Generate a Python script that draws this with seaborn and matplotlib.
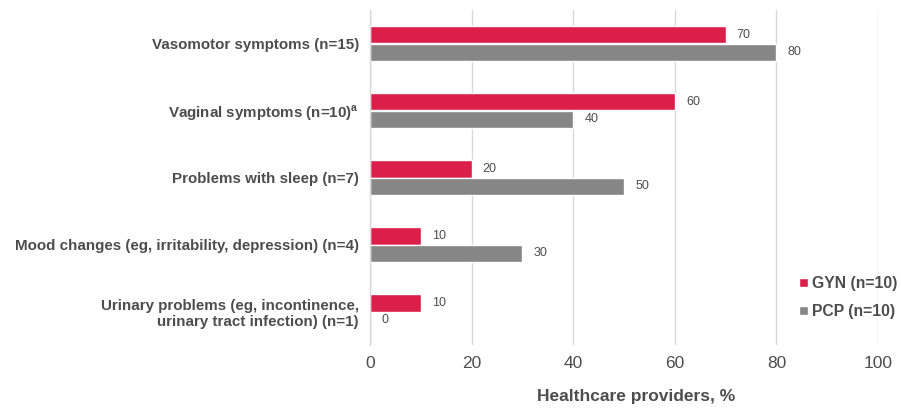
import matplotlib
matplotlib.use("Agg")
import matplotlib.pyplot as plt
import seaborn as sns
import pandas as pd

categories = [
    "Vasomotor symptoms (n=15)",
    "Vaginal symptoms (n=10)$^\\mathregular{a}$",
    "Problems with sleep (n=7)",
    "Mood changes (eg, irritability, depression) (n=4)",
    "Urinary problems (eg, incontinence,\nurinary tract infection) (n=1)",
]
series = ["GYN (n=10)", "PCP (n=10)"]
gyn_values = [70, 60, 20, 10, 10]
pcp_values = [80, 40, 50, 30, 0]
x_ticks = [0, 20, 40, 60, 80, 100]
x_label = "Healthcare providers, %"
colors = ["#DC1E4B", "#868686"]
text_color = "#4D4D4D"

df = pd.DataFrame({
    "category": categories * 2,
    "group": [series[0]] * len(categories) + [series[1]] * len(categories),
    "value": gyn_values + pcp_values,
})

sns.set_theme(style="white")
plt.rcParams["font.family"] = ["Liberation Sans", "DejaVu Sans"]

fig = plt.figure(figsize=(9.01, 4.09), dpi=100)
ax = fig.add_axes([370 / 901, 1 - 345 / 409, (878 - 370) / 901, (345 - 10) / 409])

sns.barplot(data=df, y="category", x="value", hue="group", orient="h",
            palette=colors, width=0.52, ax=ax, saturation=1, legend=True)

for cont in ax.containers:
    ax.bar_label(cont, fmt="%g", padding=8, fontsize=9, color=text_color)

ax.set_xlim(0, 100)
ax.set_ylim(4.5, -0.5)
ax.set_xticks(x_ticks)
ax.set_xticklabels([str(t) for t in x_ticks], fontsize=12.5, color=text_color)
ax.tick_params(axis="x", length=0, pad=8)
ax.tick_params(axis="y", length=0, pad=8)
for lab in ax.get_yticklabels():
    lab.set_fontweight("bold")
    lab.set_fontsize(10.9)
    lab.set_color(text_color)
    lab.set_multialignment("right")
ax.set_ylabel("")
ax.set_xlabel(x_label, fontsize=12.5, fontweight="bold", color=text_color)
ax.xaxis.set_label_coords((636 - 370) / 508, -44 / 335)
ax.grid(axis="x", color="#D9D9D9", linewidth=1)
ax.set_axisbelow(True)
for side in ["top", "right", "bottom"]:
    ax.spines[side].set_visible(False)
ax.spines["left"].set_color("#D9D9D9")
ax.spines["left"].set_linewidth(1)

leg = ax.legend(loc="lower right", bbox_to_anchor=(912 / 901, 76 / 409), bbox_transform=fig.transFigure,
                frameon=False, fontsize=11.3, handlelength=0.55, handleheight=0.55,
                handletextpad=0.3, labelspacing=0.8)
for t in leg.get_texts():
    t.set_fontweight("bold")
    t.set_color(text_color)

fig.savefig("out.png", dpi=100)
